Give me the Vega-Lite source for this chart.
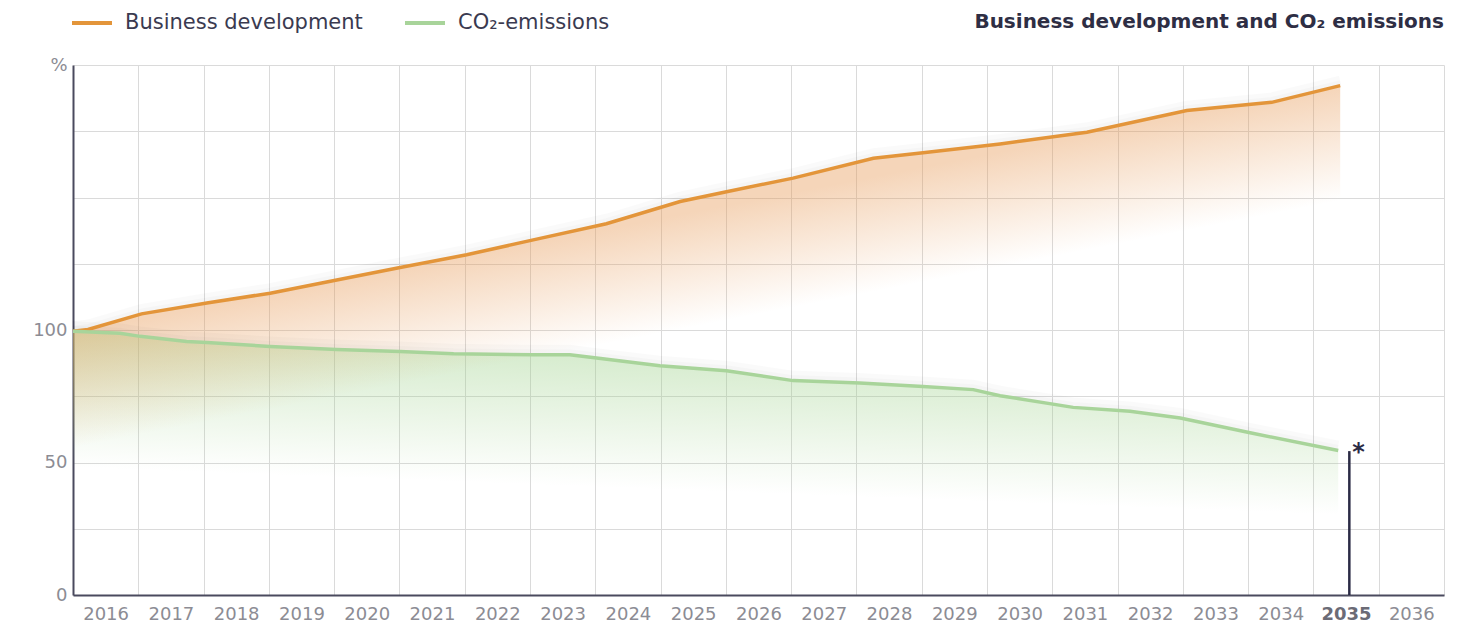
{
  "$schema": "https://vega.github.io/schema/vega-lite/v6.json",
  "width": 1371,
  "height": 530,
  "autosize": {"type": "none"},
  "padding": {"left": 73, "top": 65, "right": 37, "bottom": 33},
  "background": "white",
  "config": {"view": {"stroke": null}, "font": "DejaVu Sans"},
  "title": {"text": "Business development and CO₂ emissions", "anchor": "end", "frame": "group", "fontSize": 20, "fontWeight": "bold", "color": "#2e2e44", "offset": -31, "font": "DejaVu Sans"},
  "data": {"values": [
    {"series": "Business development", "year": 2016.0, "value": 99.5},
    {"series": "Business development", "year": 2016.23, "value": 100.2},
    {"series": "Business development", "year": 2017.05, "value": 106.1},
    {"series": "Business development", "year": 2018.05, "value": 110.2},
    {"series": "Business development", "year": 2019.02, "value": 113.9},
    {"series": "Business development", "year": 2020.04, "value": 118.9},
    {"series": "Business development", "year": 2021.01, "value": 123.6},
    {"series": "Business development", "year": 2022.03, "value": 128.4},
    {"series": "Business development", "year": 2023.05, "value": 134.0},
    {"series": "Business development", "year": 2024.17, "value": 140.1},
    {"series": "Business development", "year": 2025.3, "value": 148.5},
    {"series": "Business development", "year": 2026.01, "value": 152.2},
    {"series": "Business development", "year": 2027.03, "value": 157.3},
    {"series": "Business development", "year": 2028.26, "value": 164.8},
    {"series": "Business development", "year": 2029.02, "value": 166.9},
    {"series": "Business development", "year": 2030.2, "value": 170.2},
    {"series": "Business development", "year": 2031.53, "value": 174.6},
    {"series": "Business development", "year": 2033.06, "value": 182.8},
    {"series": "Business development", "year": 2034.36, "value": 185.9},
    {"series": "Business development", "year": 2035.41, "value": 192.2},
    {"series": "CO₂-emissions", "year": 2016.0, "value": 99.5},
    {"series": "CO₂-emissions", "year": 2016.72, "value": 98.8},
    {"series": "CO₂-emissions", "year": 2017.03, "value": 97.6},
    {"series": "CO₂-emissions", "year": 2017.74, "value": 95.7},
    {"series": "CO₂-emissions", "year": 2018.05, "value": 95.3},
    {"series": "CO₂-emissions", "year": 2019.02, "value": 93.8},
    {"series": "CO₂-emissions", "year": 2020.04, "value": 92.6},
    {"series": "CO₂-emissions", "year": 2021.01, "value": 91.9},
    {"series": "CO₂-emissions", "year": 2021.83, "value": 91.0},
    {"series": "CO₂-emissions", "year": 2023.05, "value": 90.7},
    {"series": "CO₂-emissions", "year": 2023.61, "value": 90.7},
    {"series": "CO₂-emissions", "year": 2024.02, "value": 89.4},
    {"series": "CO₂-emissions", "year": 2024.99, "value": 86.5},
    {"series": "CO₂-emissions", "year": 2026.01, "value": 84.6},
    {"series": "CO₂-emissions", "year": 2027.03, "value": 80.9},
    {"series": "CO₂-emissions", "year": 2028.05, "value": 80.0},
    {"series": "CO₂-emissions", "year": 2029.02, "value": 78.7},
    {"series": "CO₂-emissions", "year": 2029.79, "value": 77.5},
    {"series": "CO₂-emissions", "year": 2030.2, "value": 75.2},
    {"series": "CO₂-emissions", "year": 2031.32, "value": 70.8},
    {"series": "CO₂-emissions", "year": 2032.19, "value": 69.3},
    {"series": "CO₂-emissions", "year": 2032.96, "value": 66.8},
    {"series": "CO₂-emissions", "year": 2034.03, "value": 61.2},
    {"series": "CO₂-emissions", "year": 2035.38, "value": 54.5}
  ]},
  "encoding": {
    "x": {
      "field": "year", "type": "quantitative",
      "scale": {"domain": [2016, 2037], "nice": false, "zero": false},
      "axis": {
        "title": null,
        "values": [2016, 2017, 2018, 2019, 2020, 2021, 2022, 2023, 2024, 2025, 2026, 2027, 2028, 2029, 2030, 2031, 2032, 2033, 2034, 2035, 2036, 2037],
        "format": "d",
        "labelExpr": "datum.value == 2037 ? '' : datum.label",
        "grid": true, "gridColor": "#dadada", "gridWidth": 1,
        "ticks": false, "tickSize": 0,
        "domainColor": "#4a4a5e", "domainWidth": 2,
        "labelOffset": 32.6, "labelPadding": 10, "labelFontSize": 18,
        "labelFlush": false, "labelOverlap": false, "labelFont": "DejaVu Sans",
        "labelColor": {"condition": {"test": "datum.value == 2035", "value": "#6b6b76"}, "value": "#8c8c94"},
        "labelFontWeight": {"condition": {"test": "datum.value == 2035", "value": "bold"}, "value": "normal"}
      }
    },
    "y": {
      "field": "value", "type": "quantitative",
      "scale": {"domain": [0, 200], "nice": false},
      "axis": {
        "title": null,
        "values": [0, 25, 50, 75, 100, 125, 150, 175, 200],
        "labelExpr": "datum.value == 200 ? '%' : ((datum.value == 0 || datum.value == 50 || datum.value == 100) ? datum.label : '')",
        "grid": true, "gridColor": "#dadada", "gridWidth": 1,
        "ticks": false, "tickSize": 0,
        "domainColor": "#4a4a5e", "domainWidth": 2,
        "labelPadding": 6, "labelFontSize": 18, "labelColor": "#8c8c94",
        "labelOverlap": false, "labelFont": "DejaVu Sans"
      }
    }
  },
  "layer": [
    {
      "transform": [{"filter": "datum.series != 'Business development'"}],
      "mark": {"type": "area", "fill": {"gradient": "linear", "x1": 0, "y1": 0, "x2": -0.09, "y2": 0.5, "stops": [{"offset": 0, "color": "rgba(155,208,135,0.42)"}, {"offset": 1, "color": "rgba(155,208,135,0)"}]}},
      "encoding": {"y2": {"datum": 0}}
    },
    {
      "transform": [{"filter": "datum.series == 'Business development'"}],
      "mark": {"type": "area", "fill": {"gradient": "linear", "x1": 0, "y1": 0.4853, "x2": 0.0887, "y2": 0.6681, "stops": [{"offset": 0, "color": "rgba(230,150,80,0.4)"}, {"offset": 0.5, "color": "rgba(230,150,80,0.2)"}, {"offset": 1, "color": "rgba(230,150,80,0)"}]}},
      "encoding": {"y2": {"datum": 0}}
    },
    {
      "mark": {"type": "line", "stroke": "#000000", "strokeWidth": 10, "opacity": 0.018, "yOffset": -5},
      "encoding": {"detail": {"field": "series"}}
    },
    {
      "mark": {"type": "line", "stroke": "#000000", "strokeWidth": 5, "opacity": 0.02, "yOffset": -3},
      "encoding": {"detail": {"field": "series"}}
    },
    {
      "mark": {"type": "line", "strokeWidth": 3.5},
      "encoding": {
        "color": {
          "field": "series", "type": "nominal",
          "scale": {"domain": ["Business development", "CO₂-emissions"], "range": ["#e3953a", "#a8d49a"]},
          "legend": {
            "orient": "none", "legendX": -3, "legendY": -64, "direction": "horizontal",
            "title": null, "symbolType": "stroke", "symbolSize": 1600, "symbolStrokeWidth": 4,
            "labelFontSize": 21, "labelColor": "#3a3a50", "labelOffset": 11, "columnPadding": 34,
            "padding": 0, "labelFont": "DejaVu Sans", "labelLimit": 400
          }
        }
      }
    },
    {
      "data": {"values": [{"year": 2035.55, "lo": 0, "hi": 54.3}]},
      "mark": {"type": "rule", "color": "#2b2b45", "strokeWidth": 2.5},
      "encoding": {"x": {"field": "year", "type": "quantitative"}, "y": {"field": "lo", "type": "quantitative"}, "y2": {"field": "hi"}}
    },
    {
      "data": {"values": [{"year": 2035.55, "hi": 54.3, "note": "*"}]},
      "mark": {"type": "text", "color": "#2b2b45", "fontSize": 24, "fontWeight": "bold", "align": "left", "baseline": "alphabetic", "dx": 3, "dy": 9},
      "encoding": {"x": {"field": "year", "type": "quantitative"}, "y": {"field": "hi", "type": "quantitative"}, "text": {"field": "note"}}
    }
  ]
}
